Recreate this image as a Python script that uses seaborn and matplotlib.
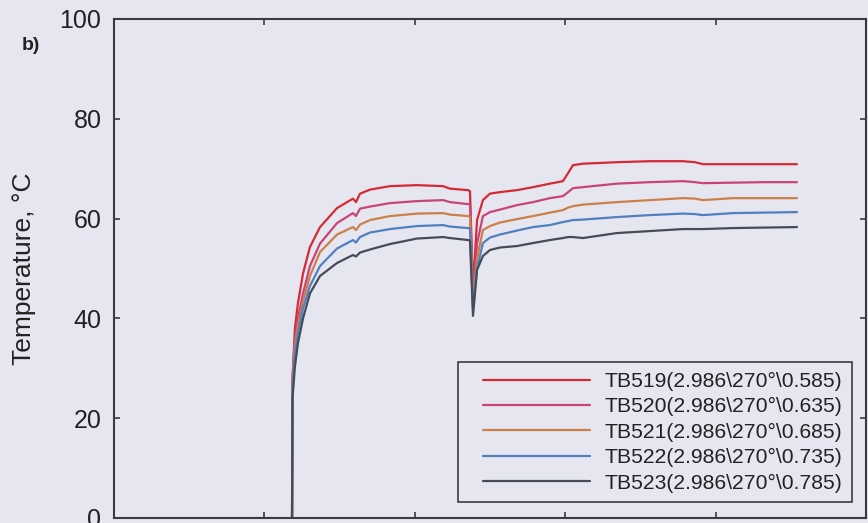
import numpy as np
import pandas as pd
import matplotlib
matplotlib.use("Agg")
import matplotlib.pyplot as plt
import seaborn as sns
from matplotlib.lines import Line2D
from matplotlib.legend_handler import HandlerLine2D

# time (arbitrary units, axis spans 0..5)
time = [1.184, 1.187, 1.203, 1.223, 1.257, 1.303, 1.370, 1.483, 1.589, 1.609,
        1.636, 1.702, 1.835, 2.015, 2.188, 2.234, 2.354, 2.367, 2.387, 2.414,
        2.453, 2.500, 2.566, 2.680, 2.786, 2.899, 2.985, 3.019, 3.052, 3.118,
        3.344, 3.564, 3.783, 3.863, 3.916, 4.116, 4.328, 4.541]

tb519 = [0, 28, 38, 43, 49, 54.3, 58.3, 62.1, 64.0, 63.3,
         65.0, 65.8, 66.5, 66.7, 66.5, 66.0, 65.7, 65.5, 46, 59.7,
         63.7, 65.0, 65.3, 65.7, 66.3, 67.0, 67.5, 69.1, 70.7, 71.0,
         71.3, 71.5, 71.5, 71.3, 70.9, 70.9, 70.9, 70.9]
tb520 = [0, 28, 36, 40, 45, 50.5, 55, 59.1, 61.1, 60.5,
         62.0, 62.4, 63.1, 63.5, 63.7, 63.3, 62.9, 62.8, 45, 55,
         60.5, 61.3, 61.8, 62.7, 63.3, 64.1, 64.5, 65.3, 66.1, 66.3,
         67.0, 67.3, 67.5, 67.3, 67.1, 67.2, 67.3, 67.3]
tb521 = [0, 27, 34.5, 38.5, 43.5, 48.5, 53.3, 56.8, 58.3, 57.7,
         58.8, 59.7, 60.5, 61.0, 61.1, 60.8, 60.5, 60.4, 43.5, 52,
         57.7, 58.5, 59.2, 59.9, 60.5, 61.2, 61.7, 62.2, 62.5, 62.8,
         63.3, 63.7, 64.1, 64.0, 63.7, 64.1, 64.1, 64.1]
tb522 = [0, 26, 33, 37, 42, 46.5, 50.5, 54, 55.7, 55.2,
         56.3, 57.2, 57.9, 58.5, 58.7, 58.4, 58.1, 58.0, 42, 50,
         55.1, 56.2, 56.8, 57.6, 58.3, 58.7, 59.3, 59.5, 59.7, 59.8,
         60.3, 60.7, 61.0, 60.9, 60.7, 61.1, 61.2, 61.3]
tb523 = [0, 24, 30.3, 35, 40, 45, 48.5, 51.1, 52.7, 52.4,
         53.2, 53.8, 54.9, 56.0, 56.3, 56.1, 55.7, 55.6, 40.5, 49.7,
         52.5, 53.7, 54.2, 54.5, 55.1, 55.7, 56.1, 56.3, 56.3, 56.1,
         57.1, 57.5, 57.9, 57.9, 57.9, 58.1, 58.2, 58.3]

labels = ["TB519(2.986\\270°\\0.585)", "TB520(2.986\\270°\\0.635)",
          "TB521(2.986\\270°\\0.685)", "TB522(2.986\\270°\\0.735)",
          "TB523(2.986\\270°\\0.785)"]
colors = ["#d42a34", "#c84478", "#cc8048", "#5080c0", "#454c58"]
yticks = [0, 20, 40, 60, 80, 100]

series = [tb519, tb520, tb521, tb522, tb523]
frames = []
for lab, vals in zip(labels, series):
    frames.append(pd.DataFrame({"t": time, "T": vals, "sensor": lab}))
df = pd.concat(frames, ignore_index=True)

sns.set_theme(style="ticks")
plt.rcParams["font.family"] = ["Liberation Sans", "DejaVu Sans"]

bg = "#e6e6f0"
fig = plt.figure(figsize=(8.68, 5.23), dpi=100, facecolor=bg)
ax = fig.add_axes([0.1313, 0.0096, 0.8664, 0.9541])
ax.set_facecolor(bg)

sns.lineplot(data=df, x="t", y="T", hue="sensor", hue_order=labels,
             palette=colors, estimator=None, sort=False, units="sensor",
             linewidth=1.6, ax=ax, legend=False)

ax.set_xlim(0, 5)
ax.set_ylim(0, 100)
ax.set_xticks([0, 1, 2, 3, 4, 5])
ax.set_yticks(yticks)
ax.set_yticklabels([str(v) for v in yticks])
ax.tick_params(axis="both", direction="in", top=True, right=True,
               length=4.5, width=1.2, color="#3a3a44", labelsize=18,
               labelcolor="#222222", labelbottom=False, pad=9)
for s in ax.spines.values():
    s.set_color("#3a3a44")
    s.set_linewidth(1.5)
ax.set_xlabel("")
ax.set_ylabel("Temperature, °C", fontsize=19, color="#222222", labelpad=17)


class ShiftedLine(HandlerLine2D):
    def create_artists(self, legend, orig_handle, xdescent, ydescent,
                       width, height, fontsize, trans):
        shift = 0.73 * fontsize
        return super().create_artists(legend, orig_handle, xdescent - shift,
                                      ydescent, width - shift, height,
                                      fontsize, trans)


handles = [Line2D([], [], color=c, lw=1.6) for c in colors]
leg = ax.legend(handles, labels, loc="lower left",
                bbox_to_anchor=(0.4574, 0.032), fontsize=15.2,
                handlelength=5.8, handletextpad=0.71, labelspacing=0.3,
                borderpad=0.45, frameon=True, fancybox=False,
                edgecolor="#3a3a44", facecolor=bg, framealpha=1,
                borderaxespad=0,
                handler_map={Line2D: ShiftedLine()})
leg.get_frame().set_linewidth(1.2)
for t in leg.get_texts():
    t.set_color("#222222")

fig.text(0.025, 0.905, "b)", fontsize=14, fontweight="bold", color="#222222")

fig.savefig("out.png", dpi=100, facecolor=bg)
